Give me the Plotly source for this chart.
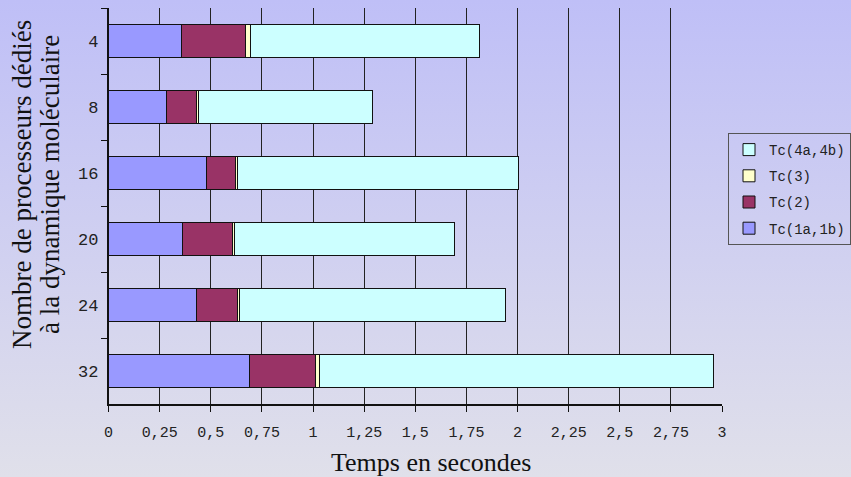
import plotly.graph_objects as go

# nombre de processeurs (lignes, de haut en bas)
processeurs = ['4', '8', '16', '20', '24', '32']

# temps en secondes pour chaque composante
tc_1a_1b = [0.358, 0.285, 0.480, 0.363, 0.428, 0.691]
tc_2 = [0.310, 0.143, 0.139, 0.241, 0.204, 0.323]
tc_3 = [0.024, 0.013, 0.013, 0.011, 0.011, 0.016]
tc_4a_4b = [1.121, 0.851, 1.375, 1.077, 1.297, 1.927]

x_ticks = [0, 0.25, 0.5, 0.75, 1, 1.25, 1.5, 1.75, 2, 2.25, 2.5, 2.75, 3]
x_ticktext = ['0', '0,25', '0,5', '0,75', '1', '1,25', '1,5', '1,75', '2', '2,25', '2,5', '2,75', '3']

# (nom, valeurs, couleur, rang dans la legende)
series = [
	('Tc(1a,1b)', tc_1a_1b, '#9999ff', 4),
	('Tc(2)', tc_2, '#993366', 3),
	('Tc(3)', tc_3, '#ffffcc', 2),
	('Tc(4a,4b)', tc_4a_4b, '#ccffff', 1),
]

W, H = 851, 477
mono = 'Liberation Mono'
serif = 'Liberation Serif'

fig = go.Figure()

# fond en degrade (sous-graphe plein cadre)
fig.add_trace(go.Scatter(
	x=[0, 1, 1, 0, 0], y=[0, 0, 1, 1, 0], fill='toself', mode='none',
	fillgradient=dict(type='vertical', start=0, stop=1,
		colorscale=[[0, 'rgb(224,224,234)'], [1, 'rgb(191,191,247)']]),
	hoverinfo='skip', showlegend=False, xaxis='x', yaxis='y'))

for name, vals, color, rank in series:
	fig.add_trace(go.Bar(
		name=name, y=processeurs, x=vals, orientation='h',
		marker=dict(color=color, line=dict(color='#111111', width=1)),
		legendgroup=name, legendrank=rank, xaxis='x2', yaxis='y2'))

fig.update_layout(
	width=W, height=H,
	margin=dict(l=0, r=0, t=0, b=0, autoexpand=False),
	paper_bgcolor='#d8d8ee',
	plot_bgcolor='rgba(0,0,0,0)',
	barmode='stack', bargap=0.5,
	xaxis=dict(domain=[0, 1], range=[0, 1], visible=False, fixedrange=True),
	yaxis=dict(domain=[0, 1], range=[0, 1], visible=False, fixedrange=True),
	xaxis2=dict(domain=[108.5 / W, 722 / W], range=[0, 3], anchor='y2',
		tickvals=x_ticks, ticktext=x_ticktext,
		showgrid=True, gridcolor='#222222', gridwidth=1.2,
		ticks='outside', ticklen=6, tickcolor='#111111', tickwidth=1.2,
		showline=True, linecolor='#111111', linewidth=1.5,
		zeroline=False, ticklabelstandoff=7,
		tickfont=dict(family=mono, size=15, color='#222222')),
	yaxis2=dict(domain=[1 - 404 / H, 1 - 8 / H], anchor='x2', type='category',
		autorange='reversed', tickson='boundaries',
		ticks='outside', ticklen=6, tickcolor='#111111', tickwidth=1.2,
		showline=True, linecolor='#111111', linewidth=1.5, showgrid=False,
		ticklabelstandoff=5,
		tickfont=dict(family=mono, size=17, color='#222222')),
	legend=dict(x=1, y=1 - 133 / H, xanchor='right', yanchor='top',
		traceorder='grouped', tracegroupgap=5,
		bgcolor='rgba(0,0,0,0)', bordercolor='#555555', borderwidth=1,
		font=dict(family=mono, size=14, color='#222222')),
	annotations=[
		dict(text='Nombre de processeurs dédiés', textangle=-90,
			x=22 / W, y=1 - 185 / H, xref='paper', yref='paper', showarrow=False,
			xanchor='center', yanchor='middle',
			font=dict(family=serif, size=27, color='#111111')),
		dict(text='à la dynamique moléculaire', textangle=-90,
			x=50 / W, y=1 - 185 / H, xref='paper', yref='paper', showarrow=False,
			xanchor='center', yanchor='middle',
			font=dict(family=serif, size=27, color='#111111')),
		dict(text='Temps en secondes',
			x=431 / W, y=1 - 462 / H, xref='paper', yref='paper', showarrow=False,
			xanchor='center', yanchor='middle',
			font=dict(family=serif, size=26, color='#111111')),
	],
)

fig.write_html("out.html", config={'displayModeBar': False},
	post_script="document.body.style.margin='0';")
